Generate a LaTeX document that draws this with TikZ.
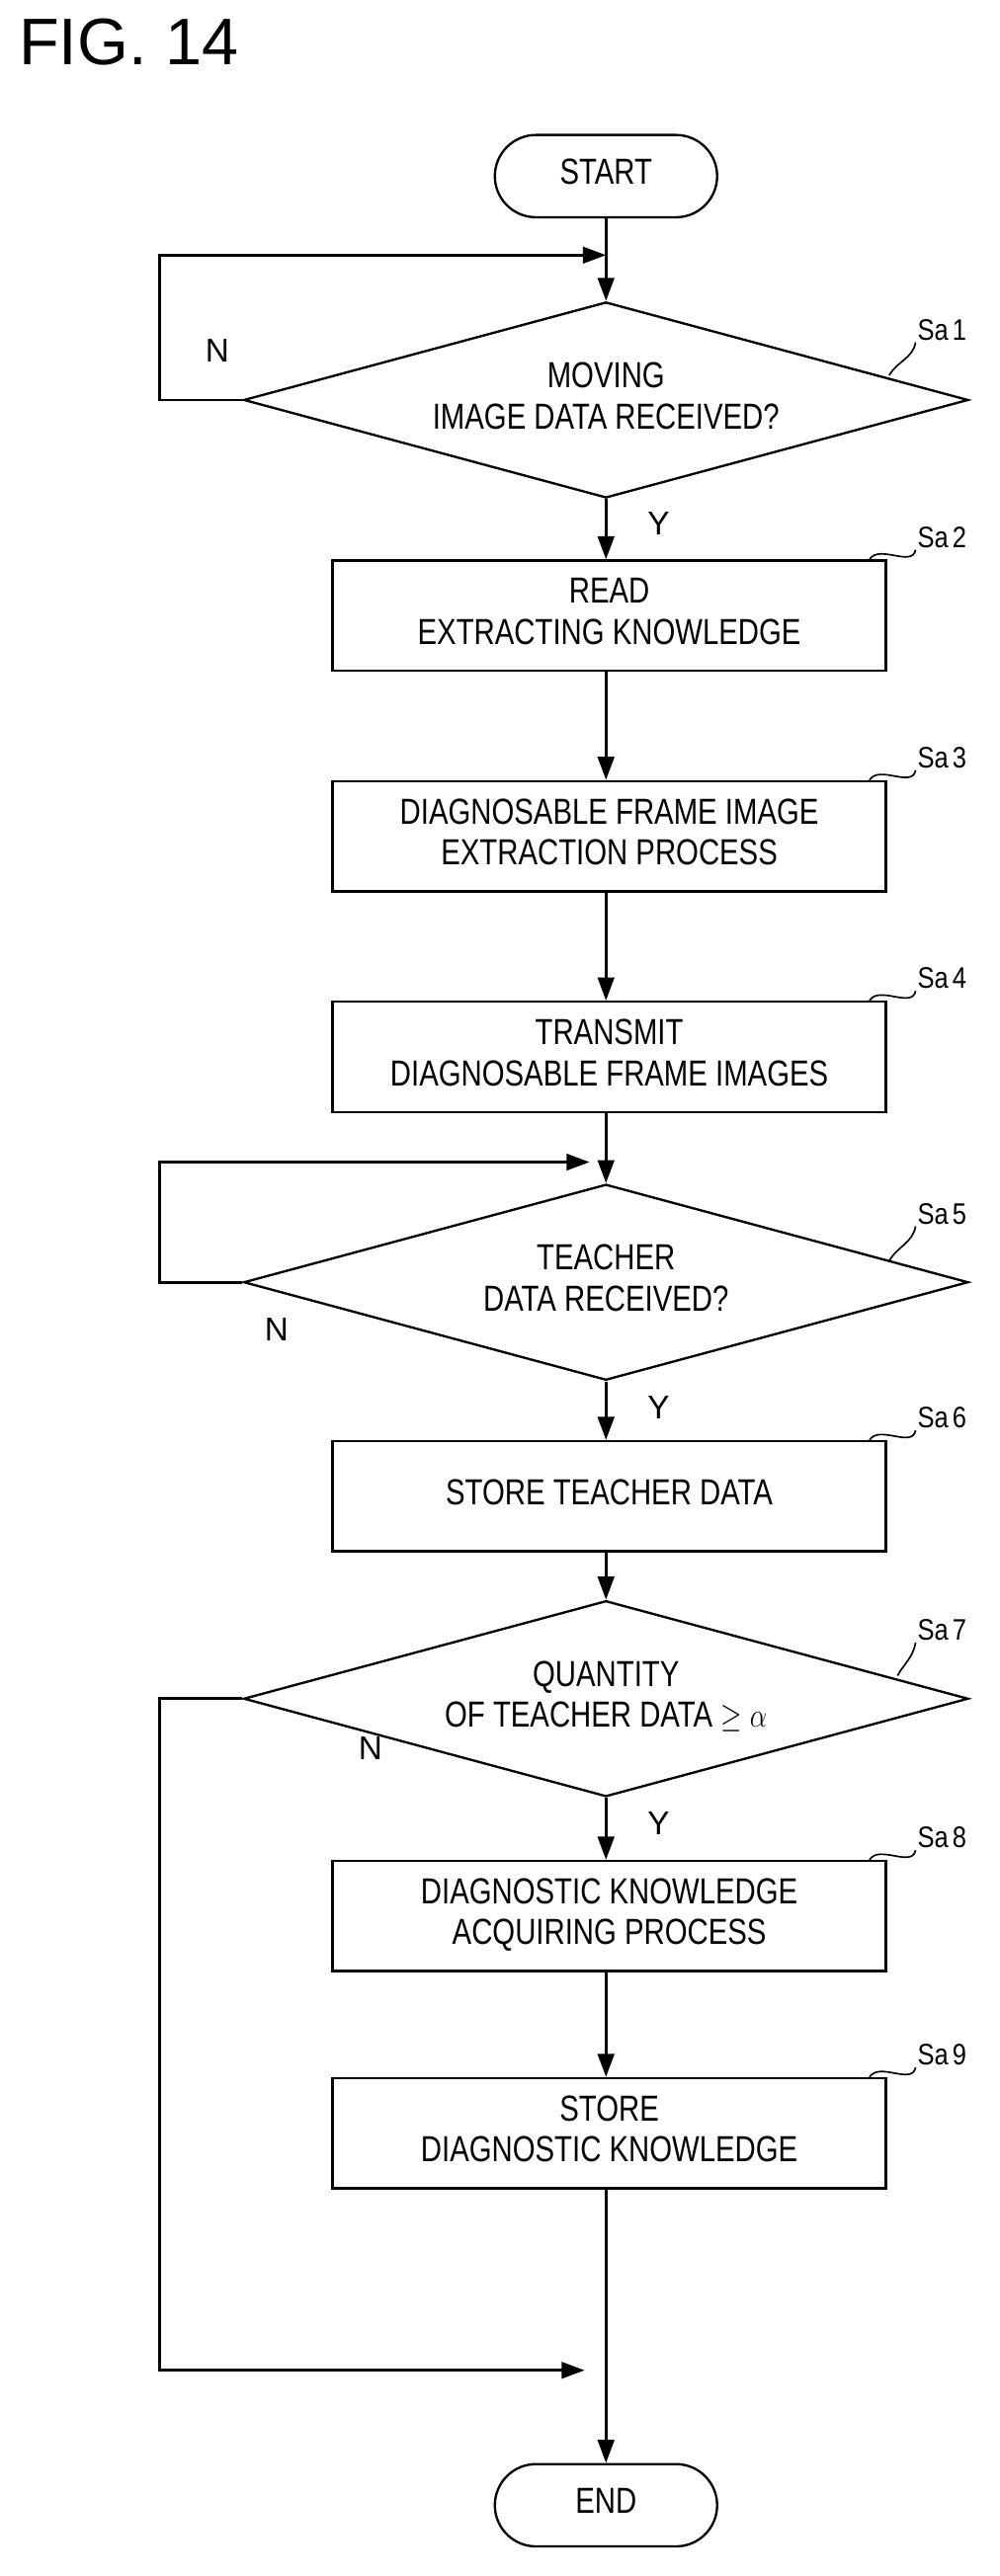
\documentclass[tikz,border=0pt]{standalone}
\usepackage{fontspec}
\setmainfont{Liberation Sans}
\usetikzlibrary{shapes.geometric,arrows.meta,positioning}
\newcommand\nar[1]{\scalebox{0.8}[1]{\begin{tabular}{@{}c@{}}#1\end{tabular}}}
\tikzset{
  flow/.style={line width=1.6pt},
  arrow/.style={flow,-{Triangle[length=14pt,width=10pt]}},
  proc/.style={draw,line width=1.4pt,minimum width=336pt,minimum height=67pt,inner sep=0,font=\fontsize{22}{25}\selectfont},
  term/.style={draw,line width=1.4pt,rounded corners=25pt,minimum width=135pt,minimum height=50pt,inner sep=0,font=\fontsize{22}{25}\selectfont},
  deci/.style={draw,diamond,aspect=3.7,line width=1.4pt,minimum width=440pt,minimum height=119pt,inner sep=0,font=\fontsize{22}{25}\selectfont},
  steplbl/.style={font=\fontsize{18}{20}\selectfont,anchor=south west,inner sep=1pt},
  leader/.style={line width=1pt},
  yn/.style={font=\fontsize{20}{22}\selectfont}
}
\begin{document}
\begin{tikzpicture}[x=1pt,y=-1pt]
\useasboundingbox (0,0) rectangle (607,1565);
\node[anchor=north west,font=\fontsize{40}{44}\selectfont] (fig) at (8,8) {FIG. 14};

% flow nodes
\node[term] (start) at (368,107) {\nar{START}};
\node[deci] (sa1) at (368,243) {\nar{MOVING\\IMAGE DATA RECEIVED?}};
\node[proc] (sa2) at (370,374) {\nar{READ\\EXTRACTING KNOWLEDGE}};
\node[proc] (sa3) at (370,508) {\nar{DIAGNOSABLE FRAME IMAGE\\EXTRACTION PROCESS}};
\node[proc] (sa4) at (370,642) {\nar{TRANSMIT\\DIAGNOSABLE FRAME IMAGES}};
\node[deci] (sa5) at (368,779) {\nar{TEACHER\\DATA RECEIVED?}};
\node[proc] (sa6) at (370,909) {\nar{STORE TEACHER DATA}};
\node[deci] (sa7) at (368,1032) {\nar{QUANTITY\\OF TEACHER DATA $\geq$ $\alpha$}};
\node[proc] (sa8) at (370,1164) {\nar{DIAGNOSTIC KNOWLEDGE\\ACQUIRING PROCESS}};
\node[proc] (sa9) at (370,1296) {\nar{STORE\\DIAGNOSTIC KNOWLEDGE}};
\node[term] (end) at (368,1522) {\nar{END}};

% connectors
\draw[arrow] (start) -- (sa1);
\draw[arrow] (sa1) -- (sa2.north -| sa1);
\draw[arrow] (sa2.south -| sa1) -- (sa3.north -| sa1);
\draw[arrow] (sa3.south -| sa1) -- (sa4.north -| sa1);
\draw[arrow] (sa4.south -| sa1) -- (sa5);
\draw[arrow] (sa5) -- (sa6.north -| sa5);
\draw[arrow] (sa6.south -| sa5) -- (sa7);
\draw[arrow] (sa7) -- (sa8.north -| sa7);
\draw[arrow] (sa8.south -| sa7) -- (sa9.north -| sa7);
\draw[arrow] (sa9.south -| sa7) -- (end);
\coordinate (j1) at (368,155);
\coordinate (j5) at (368,706);
\coordinate (j7) at (368,1440);
\draw[arrow] (sa1.west) -- (97,243) -- (97,155) -- (j1);
\draw[arrow] (sa5.west) -- (97,779) -- (97,706) -- ([xshift=-10pt]j5);
\draw[arrow] (sa7.west) -- (97,1032) -- (97,1440) -- ([xshift=-13pt]j7);

% Y/N
\node[yn] (n1) at (132,213) {N};
\node[yn] (y1) at (400,318) {Y};
\node[yn] (n5) at (168,808) {N};
\node[yn] (y5) at (400,855) {Y};
\node[yn] (n7) at (225,1062) {N};
\node[yn] (y7) at (400,1108) {Y};

% step labels with leader curves
\foreach \n/\y/\tx/\ty in {1/208/540/228, 2/334/528/340, 3/468/528/474,
  4/602/528/608, 5/745/540/766, 6/869/528/875, 7/998/545/1018,
  8/1124/528/1130, 9/1256/528/1262}{
  \node[steplbl] (lsa\n) at (556,\y) {\scalebox{0.85}[1]{Sa\,\n}};
  \draw[leader] (lsa\n.south west) to[out=-100,in=60] (\tx,\ty);
}
\end{tikzpicture}
\end{document}
